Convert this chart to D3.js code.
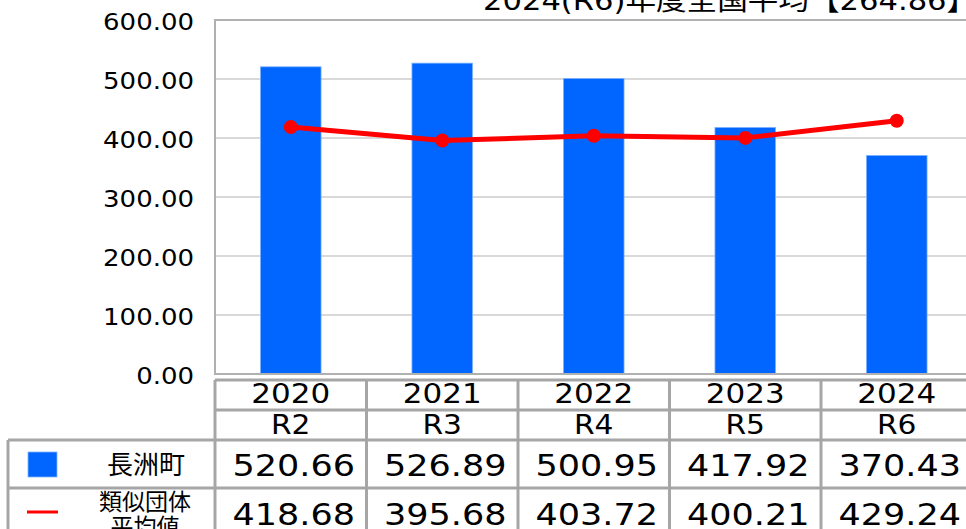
<!DOCTYPE html>
<html>
<head>
<meta charset="utf-8">
<script src="https://cdn.jsdelivr.net/npm/d3@7"></script>
<style>
  html, body { margin: 0; padding: 0; background: #fff; overflow: hidden; }
  svg { display: block; }
  text { font-family: "DejaVu Sans", "Noto Sans CJK JP", sans-serif; fill: #000; }
</style>
</head>
<body>
<svg id="chart" width="966" height="529"></svg>
<script>
// ---- data ----
const years = ["2020", "2021", "2022", "2023", "2024"];
const eras = ["R2", "R3", "R4", "R5", "R6"];
const townValues = [520.66, 526.89, 500.95, 417.92, 370.43];
const similarAvg = [418.68, 395.68, 403.72, 400.21, 429.24];
const yTicks = [0, 100, 200, 300, 400, 500, 600];
const seriesNames = ["長洲町", ["類似団体", "平均値"]];
const titleText = "2024(R6)年度全国平均【264.86】";

// ---- layout ----
const svg = d3.select("#chart");
const plotLeft = 215, plotRight = 972.5, plotTop = 20, plotBottom = 374;
const SX = 1.13; // horizontal stretch of the text
const BLUE = "#0066ff", RED = "#ff0000", GRID = "#d9d9d9", BORDER = "#a6a6a6";

const x = d3.scaleBand().domain(years).range([plotLeft, plotRight]).padding(0);
const y = d3.scaleLinear().domain([0, 600]).range([plotBottom, plotTop]);
const bw = x.bandwidth();
const cx = d => x(d) + bw / 2;

function stretchedText(g, tx, ty, str, size, anchor, sx) {
  return g.append("text")
    .attr("transform", `translate(${tx},${ty}) scale(${sx},1)`)
    .attr("text-anchor", anchor)
    .attr("font-size", size)
    .text(str);
}

// title
stretchedText(svg, 483, 10, titleText, 26.5, "start", 1.155);

// gridlines
svg.append("g").selectAll("line").data(yTicks.filter(t => t > 0 && t < 600)).join("line")
  .attr("x1", plotLeft).attr("x2", plotRight)
  .attr("y1", d => y(d)).attr("y2", d => y(d))
  .attr("stroke", GRID).attr("stroke-width", 2);

// y tick labels
const yl = svg.append("g");
yTicks.forEach(t => stretchedText(yl, 194, y(t) + 10, d3.format(".2f")(t), 23, "end", SX));

// bars
svg.append("g").selectAll("rect").data(years).join("rect")
  .attr("x", (d) => cx(d) - bw * 0.2)
  .attr("width", bw * 0.4)
  .attr("y", (d, i) => y(townValues[i]))
  .attr("height", (d, i) => y(0) - y(townValues[i]))
  .attr("fill", BLUE)
  .attr("stroke", "#7fb2ff").attr("stroke-width", 0.8);

// plot border
svg.append("path")
  .attr("d", `M${plotRight},${plotTop}H${plotLeft}V${plotBottom}H${plotRight}`)
  .attr("fill", "none").attr("stroke", "#b0b0b0").attr("stroke-width", 2);

// line series
const line = d3.line().x((d, i) => cx(years[i])).y(d => y(d));
svg.append("path").datum(similarAvg)
  .attr("d", line).attr("fill", "none")
  .attr("stroke", RED).attr("stroke-width", 5).attr("stroke-linejoin", "round");
svg.append("g").selectAll("circle").data(similarAvg).join("circle")
  .attr("cx", (d, i) => cx(years[i])).attr("cy", d => y(d)).attr("r", 7)
  .attr("fill", RED);

// ---- data table ----
const tbl = svg.append("g");
const rowLines = [380, 410, 440, 488, 560];
const legendLeft = 8;
const colEdges = years.map(d => x(d)).concat([plotRight]);

// horizontal lines
tbl.append("line").attr("x1", plotLeft).attr("x2", plotRight).attr("y1", rowLines[0]).attr("y2", rowLines[0]);
tbl.append("line").attr("x1", plotLeft).attr("x2", plotRight).attr("y1", rowLines[1]).attr("y2", rowLines[1]);
[rowLines[2], rowLines[3]].forEach(yy =>
  tbl.append("line").attr("x1", legendLeft).attr("x2", plotRight).attr("y1", yy).attr("y2", yy));
// vertical lines
colEdges.forEach(xx =>
  tbl.append("line").attr("x1", xx).attr("x2", xx).attr("y1", rowLines[0]).attr("y2", 560));
tbl.append("line").attr("x1", legendLeft).attr("x2", legendLeft).attr("y1", rowLines[2]).attr("y2", 560);
tbl.selectAll("line").attr("stroke", BORDER).attr("stroke-width", 3);

// header texts
years.forEach((d, i) => {
  stretchedText(tbl, cx(d), 403, d, 26.5, "middle", 1.17);
  stretchedText(tbl, cx(d), 434, eras[i], 27, "middle", 1.1);
  stretchedText(tbl, cx(d) + 3, 476, d3.format(".2f")(townValues[i]), 31, "middle", SX);
  stretchedText(tbl, cx(d) + 3, 525, d3.format(".2f")(similarAvg[i]), 31, "middle", SX);
});

// legend
tbl.append("rect").attr("x", 28).attr("y", 452).attr("width", 29).attr("height", 25)
  .attr("fill", BLUE).attr("stroke", "#7fb2ff").attr("stroke-width", 0.8);
tbl.append("line").attr("x1", 27).attr("x2", 58).attr("y1", 512).attr("y2", 512)
  .attr("stroke", RED).attr("stroke-width", 3);
tbl.append("text").attr("x", 146).attr("y", 474).attr("text-anchor", "middle")
  .attr("font-size", 26).attr("font-family", "Noto Sans CJK JP").text(seriesNames[0]);
seriesNames[1].forEach((s, k) =>
  tbl.append("text").attr("x", 145).attr("y", 510 + k * 25).attr("text-anchor", "middle")
    .attr("font-size", 23).attr("font-family", "Noto Sans CJK JP").text(s));
</script>
</body>
</html>
